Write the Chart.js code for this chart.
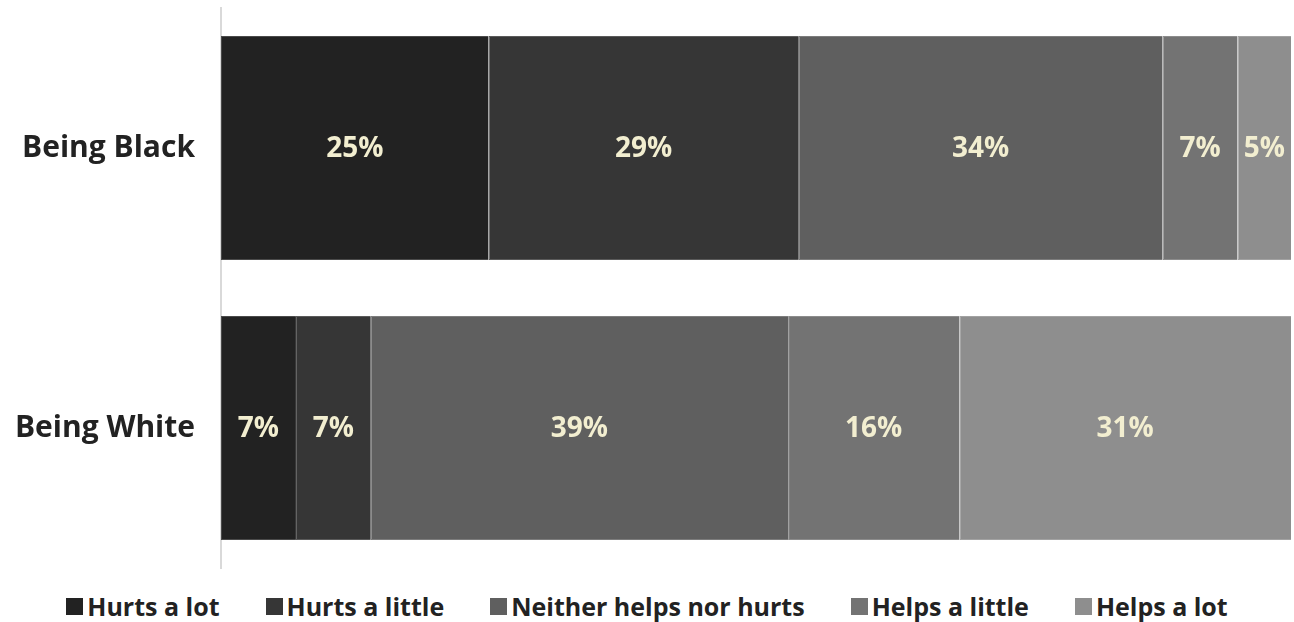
<!DOCTYPE html>
<html>
<head>
<meta charset="utf-8">
<script src="https://cdn.jsdelivr.net/npm/chart.js@4"></script>
<style>
    html, body { margin: 0; padding: 0; background: #ffffff; }
    #wrap { width: 1294px; height: 622px; position: relative; }
    #chartBox { position: absolute; left: 0; top: 0; width: 1294px; height: 578px; }
    #legend {
        position: absolute; left: 0; top: 590px; width: 1294px; height: 32px;
        display: flex; justify-content: center; align-items: center;
        font-family: 'Open Sans', sans-serif; font-weight: bold; font-size: 25px; color: #222222;
    }
    .item { display: flex; align-items: center; margin: 0 23px; }
    .box { width: 17px; height: 17px; margin-right: 4px; }
</style>
</head>
<body>
<div id="wrap">
    <div id="chartBox"><canvas id="myChart"></canvas></div>
    <div id="legend"></div>
</div>
<script>
const categories = ['Being Black', 'Being White'];
const seriesNames = ['Hurts a lot', 'Hurts a little', 'Neither helps nor hurts', 'Helps a little', 'Helps a lot'];
const hurtsALot = [25, 7];
const hurtsALittle = [29, 7];
const neither = [34, 39];
const helpsALittle = [7, 16];
const helpsALot = [5, 31];
const seriesColors = ['#222222', '#363636', '#5f5f5f', '#737373', '#8e8e8e'];
const edgeColors = ['#4a4a4a', '#5a5a5a', '#7c7c7c', '#8c8c8c', '#a2a2a2'];

const fontFamily = "'Open Sans', sans-serif";

// draws the percentage in the middle of each segment
const barLabels = {
    id: 'barLabels',
    afterDatasetsDraw(chart) {
        const ctx = chart.ctx;
        ctx.save();
        ctx.font = `bold 28px ${fontFamily}`;
        ctx.fillStyle = '#f2eed0';
        ctx.textAlign = 'center';
        ctx.textBaseline = 'middle';
        chart.data.datasets.forEach((dataset, i) => {
            const meta = chart.getDatasetMeta(i);
            meta.data.forEach((bar, j) => {
                const cx = (bar.x + bar.base) / 2;
                ctx.fillText(`${dataset.data[j]}%`, cx, bar.y + 1);
            });
        });
        ctx.restore();
    }
};

function createChart() {
    const ctx = document.getElementById('myChart').getContext('2d');
    const allValues = [hurtsALot, hurtsALittle, neither, helpsALittle, helpsALot];
    return new Chart(ctx, {
        type: 'bar',
        data: {
            labels: categories,
            datasets: allValues.map((values, i) => ({
                label: seriesNames[i],
                data: values,
                backgroundColor: seriesColors[i],
                borderColor: edgeColors[i],
                borderWidth: { top: 1, bottom: 1, left: 1, right: 0 },
                borderSkipped: false,
                barPercentage: 0.8,
                categoryPercentage: 1.0
            }))
        },
        options: {
            indexAxis: 'y',
            responsive: true,
            maintainAspectRatio: false,
            animation: false,
            layout: {
                padding: { top: 8, right: 3, left: 0, bottom: 10 }
            },
            scales: {
                x: {
                    stacked: true,
                    min: 0,
                    max: 100,
                    display: false
                },
                y: {
                    stacked: true,
                    grid: {
                        drawOnChartArea: false,
                        drawTicks: true,
                        tickLength: 26,
                        color: 'rgba(0,0,0,0)'
                    },
                    border: { display: true, color: '#d9d9d9', width: 2 },
                    ticks: {
                        color: '#222222',
                        font: { family: fontFamily, size: 30, weight: 'bold', lineHeight: 0.4 },
                        padding: 0
                    },
                    afterFit(scale) {
                        scale.width = 221;
                    }
                }
            },
            plugins: {
                legend: { display: false },
                tooltip: { enabled: false }
            }
        },
        plugins: [barLabels]
    });
}

function buildLegend() {
    const legend = document.getElementById('legend');
    seriesNames.forEach((name, i) => {
        const item = document.createElement('div');
        item.classList.add('item');
        const box = document.createElement('span');
        box.classList.add('box');
        box.style.background = seriesColors[i];
        item.appendChild(box);
        const text = document.createElement('span');
        text.textContent = name;
        item.appendChild(text);
        legend.appendChild(item);
    });
}

let chart = createChart();
buildLegend();
</script>
</body>
</html>
